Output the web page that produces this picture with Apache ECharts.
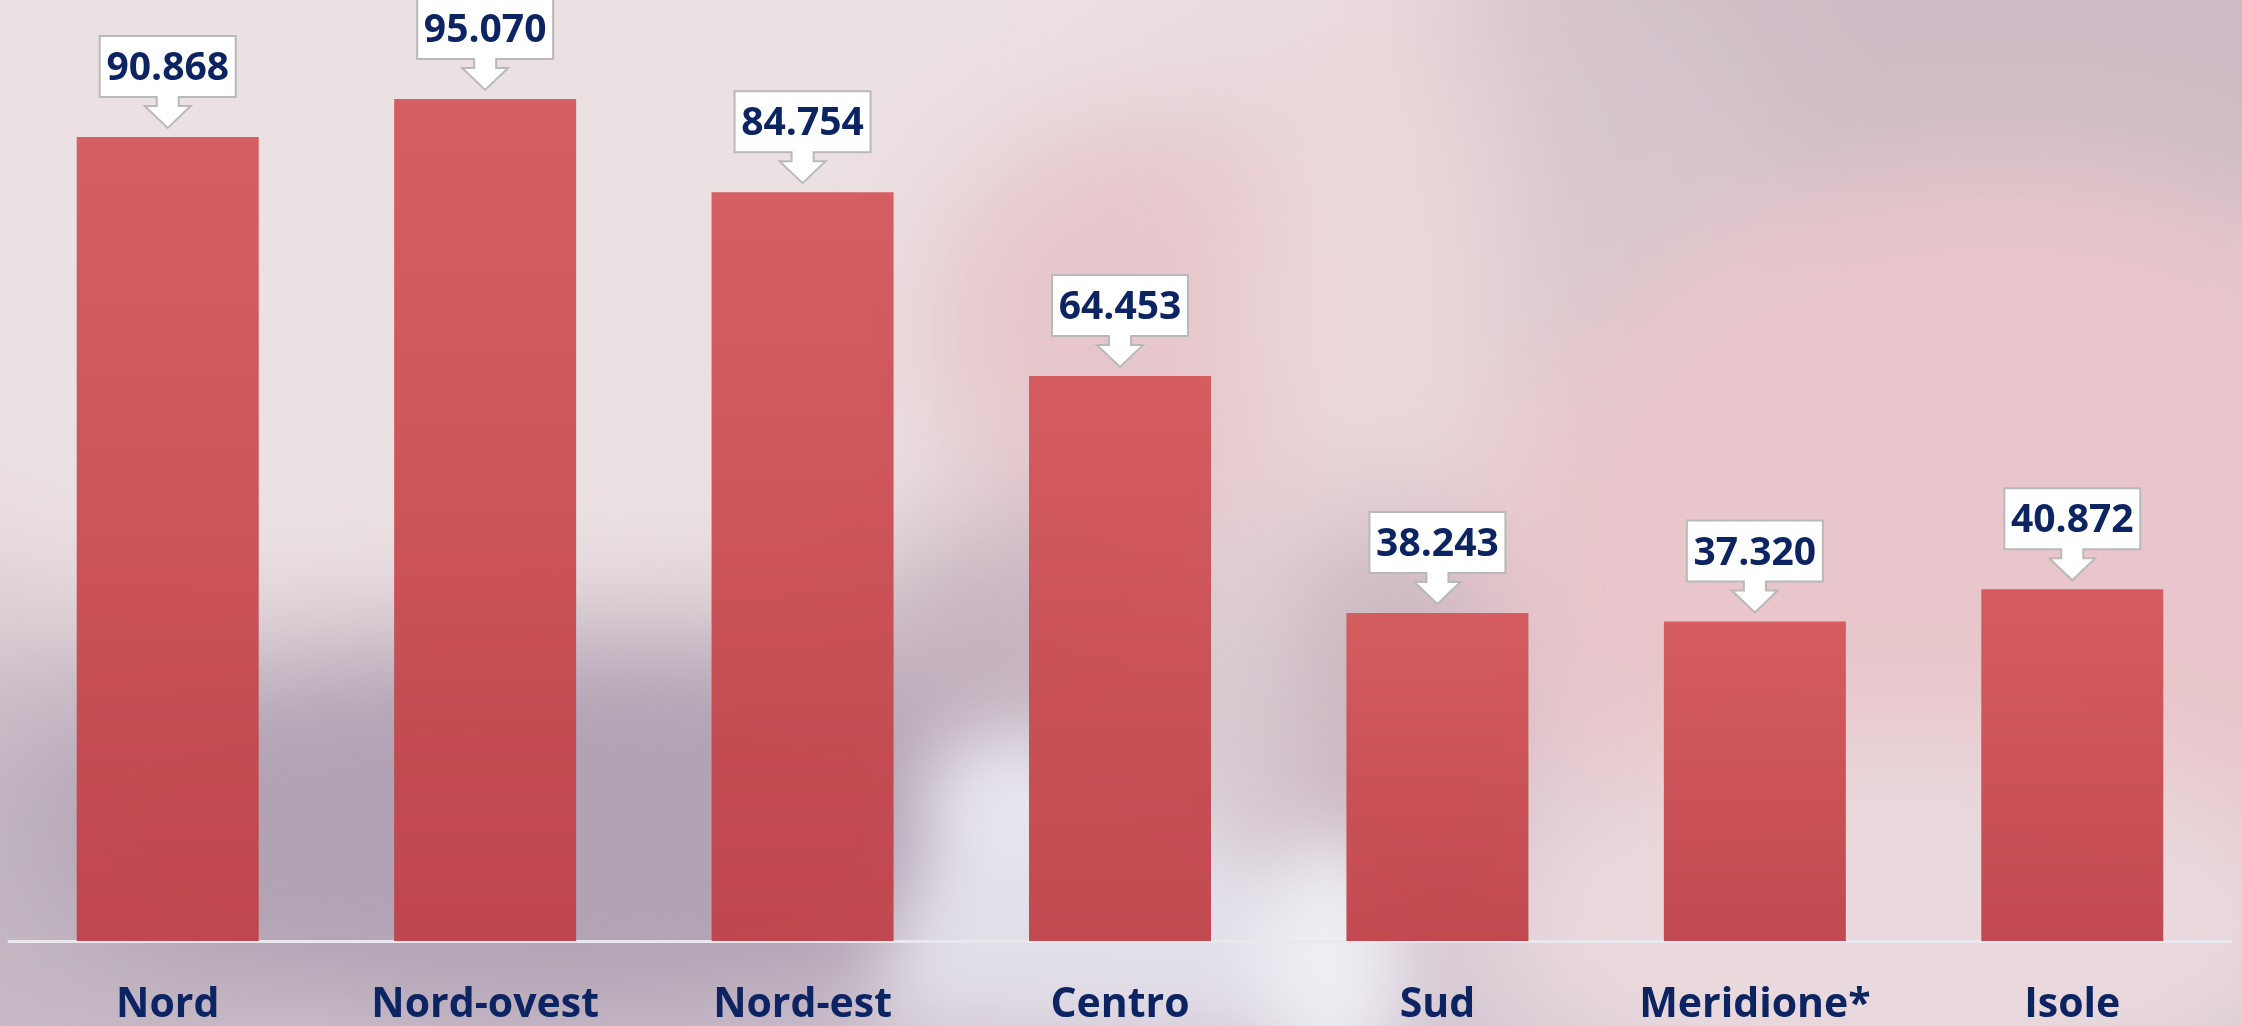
<!DOCTYPE html>
<html>
<head>
<meta charset="utf-8">
<script src="https://cdn.jsdelivr.net/npm/echarts@6/dist/echarts.min.js"></script>
<style>
  html, body { margin: 0; padding: 0; width: 2242px; height: 1026px; overflow: hidden; background: #e3d3d8; }
  #bg { position: absolute; left: 0; top: 0; }
  #chart { position: absolute; left: 0; top: 0; width: 2242px; height: 1026px; }
</style>
</head>
<body>
<svg id="bg" width="2242" height="1026" viewBox="0 0 2242 1026" xmlns="http://www.w3.org/2000/svg">
  <defs>
    <filter id="b60" x="-50%" y="-50%" width="200%" height="200%"><feGaussianBlur stdDeviation="60"/></filter>
    <filter id="b30" x="-50%" y="-50%" width="200%" height="200%"><feGaussianBlur stdDeviation="35"/></filter>
    <linearGradient id="base" x1="0" y1="0" x2="0" y2="1">
      <stop offset="0" stop-color="#e8dcdf"/>
      <stop offset="0.5" stop-color="#e0d2d7"/>
      <stop offset="1" stop-color="#d3c6d1"/>
    </linearGradient>
  </defs>
  <rect width="2242" height="1026" fill="url(#base)"/>
  <g filter="url(#b60)">
    <ellipse cx="450" cy="200" rx="800" ry="420" fill="#ebe0e2"/>
    <ellipse cx="1950" cy="60" rx="520" ry="260" fill="#cdbcc5"/>
    <ellipse cx="1560" cy="200" rx="220" ry="260" fill="#d6c6cc"/>
    <ellipse cx="2000" cy="580" rx="520" ry="420" fill="#e8c6cb"/>
    <ellipse cx="1150" cy="330" rx="230" ry="220" fill="#e6c6cb"/>
    <ellipse cx="1380" cy="300" rx="130" ry="320" fill="#ecd8da"/>
    <ellipse cx="60" cy="880" rx="260" ry="220" fill="#c4b7c3"/>
    <ellipse cx="560" cy="830" rx="520" ry="200" fill="#b1a2b4"/>
    <ellipse cx="1000" cy="640" rx="150" ry="120" fill="#c5b3bf"/>
    <ellipse cx="1390" cy="700" rx="100" ry="200" fill="#c9b5bf"/>
    <ellipse cx="1900" cy="930" rx="420" ry="190" fill="#e9d9dd"/>
  </g>
  <g filter="url(#b30)">
    <path d="M 880 1026 C 900 850, 960 760, 1040 740 C 1120 740, 1250 860, 1400 1026 Z" fill="#e2dfe9"/>
    <ellipse cx="1330" cy="960" rx="70" ry="120" fill="#efeef4"/>
    <ellipse cx="1010" cy="800" rx="90" ry="70" fill="#e8e5ee"/>
  </g>
</svg>
<div id="chart"></div>
<script>
const categories = ['Nord', 'Nord-ovest', 'Nord-est', 'Centro', 'Sud', 'Meridione*', 'Isole'];
const values = [90.868, 95.070, 84.754, 64.453, 38.243, 37.320, 40.872];
const valueLabels = ['90.868', '95.070', '84.754', '64.453', '38.243', '37.320', '40.872'];

const NAVY = '#0c2462';
const chart = echarts.init(document.getElementById('chart'), null, { renderer: 'canvas' });

function renderCallout(params, api) {
  const idx = api.value(0);
  const val = api.value(1);
  const pt = api.coord([idx, val]);
  const x = pt[0];
  const tip = pt[1] - 9;
  const headTop = tip - 22;
  const boxBottom = headTop - 9;
  const boxTop = boxBottom - 61;
  const hw = 68, sw = 11, aw = 23;
  const points = [
    [x - hw, boxTop], [x + hw, boxTop], [x + hw, boxBottom], [x + sw, boxBottom],
    [x + sw, headTop], [x + aw, headTop], [x, tip], [x - aw, headTop],
    [x - sw, headTop], [x - sw, boxBottom], [x - hw, boxBottom]
  ];
  return {
    type: 'group',
    children: [
      { type: 'polygon', shape: { points: points },
        style: { fill: '#ffffff', stroke: '#b9b9b9', lineWidth: 2 } },
      { type: 'text', x: x, y: boxTop + 33,
        style: { text: valueLabels[idx], fill: NAVY, font: 'bold 39px "Open Sans"',
                 align: 'center', verticalAlign: 'middle' } }
    ]
  };
}

chart.setOption({
  animation: false,
  backgroundColor: 'transparent',
  grid: { left: 9, right: 11, top: 0, bottom: 83, containLabel: false },
  xAxis: {
    type: 'category',
    data: categories,
    axisLine: { show: true, lineStyle: { color: '#ebe7ef', width: 3 } },
    axisTick: { show: false },
    axisLabel: { color: NAVY, fontFamily: 'Open Sans', fontWeight: 'bold', fontSize: 41, margin: 44 }
  },
  yAxis: {
    type: 'value', min: 2, max: 106,
    show: false, splitLine: { show: false }
  },
  series: [
    {
      type: 'bar',
      data: values,
      barWidth: 182,
      itemStyle: {
        opacity: 0.95,
        color: new echarts.graphic.LinearGradient(0, 0, 0, 1, [
          { offset: 0, color: '#d3575a' },
          { offset: 1, color: '#bf4149' }
        ])
      },
      z: 2
    },
    {
      type: 'custom',
      data: values.map((v, i) => [i, v]),
      renderItem: renderCallout,
      clip: false,
      z: 5
    }
  ]
});
</script>
</body>
</html>
